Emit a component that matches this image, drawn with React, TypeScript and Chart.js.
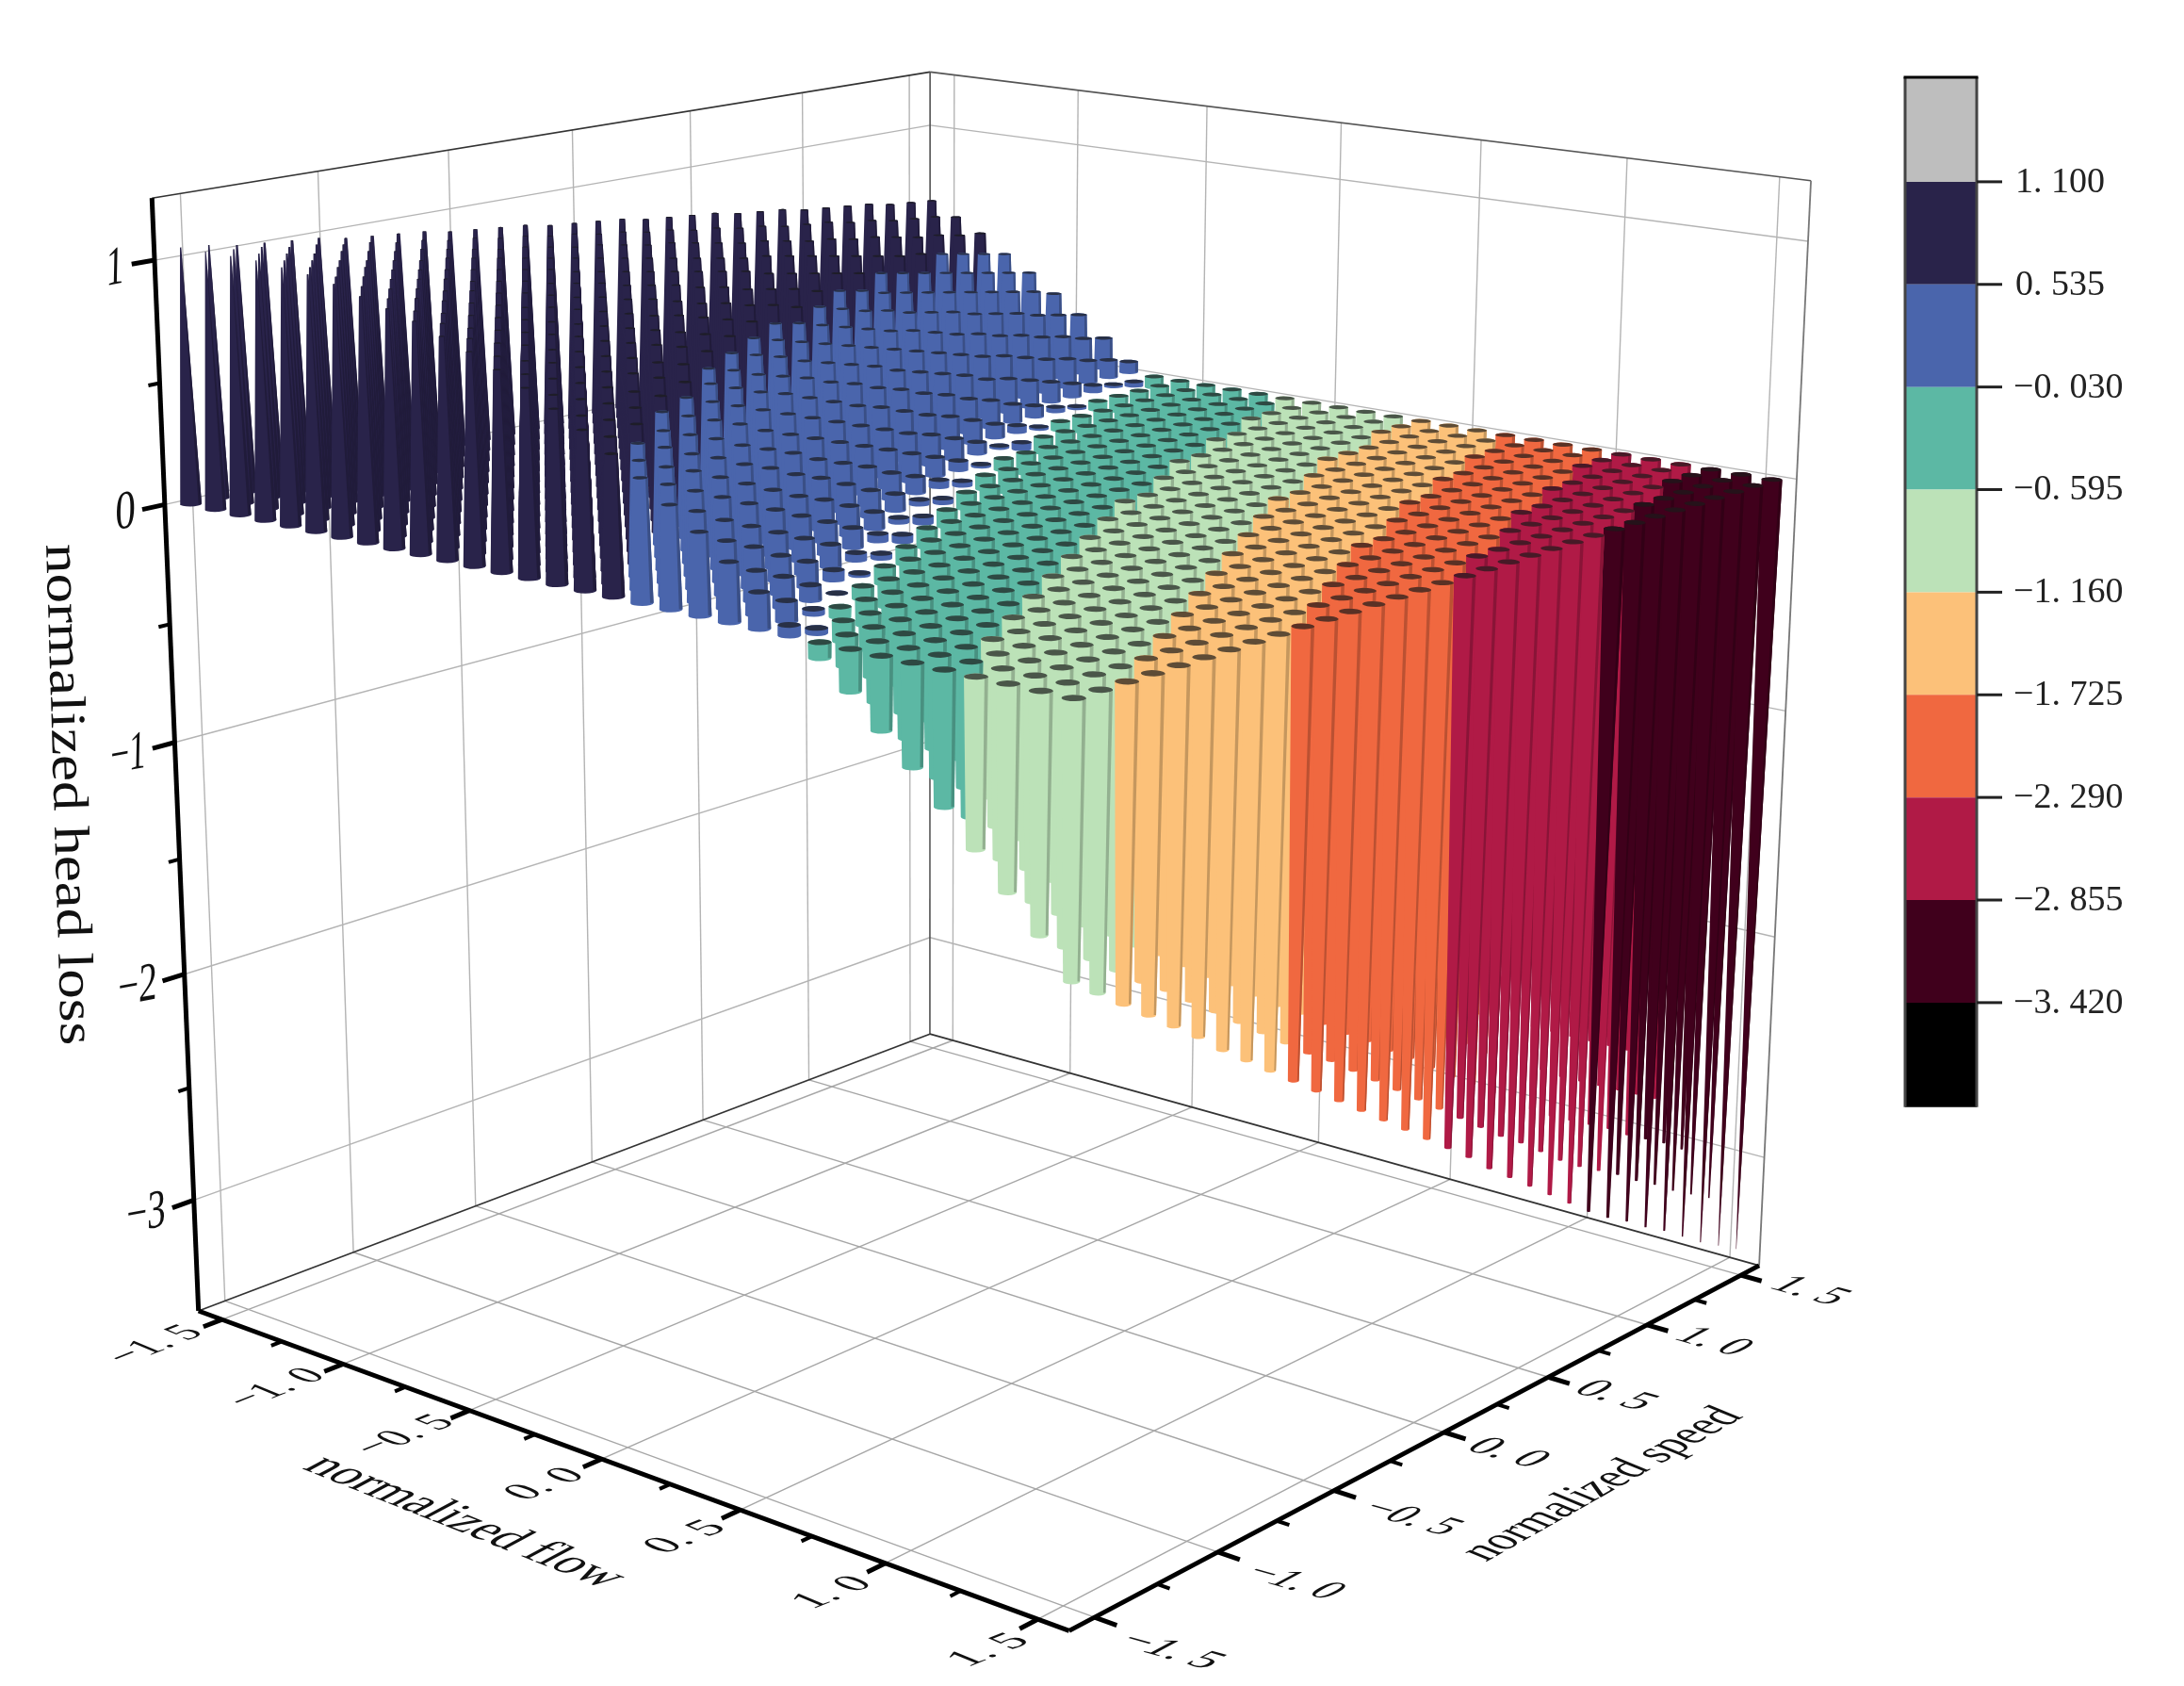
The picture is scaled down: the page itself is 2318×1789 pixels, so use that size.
import React, { useEffect, useRef } from "react";
import { Chart, registerables } from "chart.js";
Chart.register(...registerables);

const flowValues = [-1.55,-1.45,-1.35,-1.25,-1.15,-1.05,-0.95,-0.85,-0.75,-0.65,-0.55,-0.45,-0.35,-0.25,-0.15,-0.05,0.05,0.15,0.25,0.35,0.45,0.55,0.65,0.75,0.85,0.95,1.05,1.15,1.25,1.35,1.45,1.55];
const speedValues = [-1.55,-1.45,-1.35,-1.25,-1.15,-1.05,-0.95,-0.85,-0.75,-0.65,-0.55,-0.45,-0.35,-0.25,-0.15,-0.05,0.05,0.15,0.25,0.35,0.45,0.55,0.65,0.75,0.85,0.95,1.05,1.15,1.25,1.35,1.45,1.55];
// one row per speed value, one column per flow value
const headLoss: number[][] = [
[1.05,1.05,1.05,1.05,1.04,1.03,1.01,.98,.95,.92,.88,.84,.79,.74,.68,.62,.55,.48,.40,.32,.23,.14,.04,-.06,-.16,-.28,-.39,-.51,-.64,-.77,-.90,-1.04],
[1.04,1.04,1.04,1.03,1.02,1.00,.98,.95,.92,.89,.85,.80,.75,.69,.63,.57,.50,.43,.35,.26,.17,.08,-.02,-.12,-.23,-.34,-.46,-.58,-.71,-.84,-.98,-1.12],
[1.02,1.03,1.02,1.01,1.00,.98,.95,.93,.89,.85,.81,.76,.71,.65,.59,.52,.45,.38,.29,.21,.12,.02,-.08,-.19,-.30,-.41,-.53,-.65,-.78,-.92,-1.06,-1.20],
[1.01,1.01,1.00,.99,.98,.95,.93,.90,.86,.82,.78,.73,.67,.61,.55,.48,.41,.33,.24,.15,.06,-.04,-.14,-.25,-.36,-.48,-.60,-.73,-.86,-1.00,-1.14,-1.28],
[1.00,1.00,.99,.97,.95,.93,.90,.87,.83,.79,.74,.69,.63,.57,.50,.43,.36,.28,.19,.10,.00,-.10,-.20,-.31,-.43,-.55,-.67,-.80,-.93,-1.07,-1.22,-1.36],
[.99,.98,.97,.95,.93,.91,.88,.84,.80,.76,.71,.65,.59,.53,.46,.39,.31,.23,.14,.04,-.05,-.16,-.26,-.38,-.49,-.61,-.74,-.87,-1.01,-1.15,-1.29,-1.44],
[.97,.97,.95,.93,.91,.88,.85,.81,.77,.73,.67,.62,.55,.49,.42,.34,.26,.18,.09,-.01,-.11,-.21,-.32,-.44,-.56,-.68,-.81,-.94,-1.08,-1.22,-1.37,-1.53],
[.96,.95,.94,.92,.89,.86,.83,.79,.74,.69,.64,.58,.52,.45,.37,.30,.21,.13,.03,-.07,-.17,-.27,-.39,-.50,-.62,-.75,-.88,-1.02,-1.16,-1.30,-1.45,-1.61],
[.95,.94,.92,.90,.87,.84,.80,.76,.71,.66,.60,.54,.48,.41,.33,.25,.17,.08,-.02,-.12,-.22,-.33,-.45,-.57,-.69,-.82,-.95,-1.09,-1.23,-1.38,-1.53,-1.69],
[.94,.92,.90,.88,.85,.81,.77,.73,.68,.63,.57,.51,.44,.36,.29,.21,.12,.03,-.07,-.17,-.28,-.39,-.51,-.63,-.75,-.88,-1.02,-1.16,-1.30,-1.45,-1.61,-1.77],
[.92,.91,.88,.86,.83,.79,.75,.70,.65,.60,.53,.47,.40,.32,.24,.16,.07,-.03,-.12,-.23,-.34,-.45,-.57,-.69,-.82,-.95,-1.09,-1.23,-1.38,-1.53,-1.69,-1.85],
[.91,.89,.87,.84,.80,.77,.72,.67,.62,.56,.50,.43,.36,.28,.20,.11,.02,-.08,-.18,-.28,-.39,-.51,-.63,-.75,-.88,-1.02,-1.16,-1.30,-1.45,-1.61,-1.77,-1.93],
[.90,.88,.85,.82,.78,.74,.70,.65,.59,.53,.46,.40,.32,.24,.16,.07,-.03,-.13,-.23,-.34,-.45,-.57,-.69,-.82,-.95,-1.09,-1.23,-1.38,-1.53,-1.68,-1.84,-2.01],
[.89,.86,.83,.80,.76,.72,.67,.62,.56,.50,.43,.36,.28,.20,.11,.02,-.07,-.18,-.28,-.39,-.51,-.63,-.75,-.88,-1.01,-1.16,-1.30,-1.45,-1.60,-1.76,-1.92,-2.09],
[.87,.85,.82,.78,.74,.70,.64,.59,.53,.47,.40,.32,.24,.16,.07,-.02,-.12,-.23,-.33,-.45,-.56,-.68,-.81,-.94,-1.08,-1.22,-1.37,-1.52,-1.68,-1.84,-2.00,-2.17],
[.86,.83,.80,.76,.72,.67,.62,.56,.50,.43,.36,.28,.20,.12,.03,-.07,-.17,-.28,-.39,-.50,-.62,-.74,-.87,-1.01,-1.15,-1.29,-1.44,-1.59,-1.75,-1.91,-2.08,-2.25],
[.85,.82,.78,.74,.70,.65,.59,.53,.47,.40,.33,.25,.16,.08,-.02,-.11,-.22,-.33,-.44,-.55,-.68,-.80,-.93,-1.07,-1.21,-1.36,-1.51,-1.66,-1.82,-1.99,-2.16,-2.33],
[.84,.80,.77,.72,.68,.62,.57,.51,.44,.37,.29,.21,.13,.04,-.06,-.16,-.27,-.38,-.49,-.61,-.73,-.86,-1.00,-1.13,-1.28,-1.43,-1.58,-1.74,-1.90,-2.06,-2.24,-2.41],
[.82,.79,.75,.70,.66,.60,.54,.48,.41,.34,.26,.17,.09,-.01,-.10,-.21,-.31,-.43,-.54,-.66,-.79,-.92,-1.06,-1.20,-1.34,-1.49,-1.65,-1.81,-1.97,-2.14,-2.32,-2.50],
[.81,.77,.73,.68,.63,.58,.52,.45,.38,.30,.22,.14,.05,-.05,-.15,-.25,-.36,-.48,-.59,-.72,-.85,-.98,-1.12,-1.26,-1.41,-1.56,-1.72,-1.88,-2.05,-2.22,-2.40,-2.58],
[.80,.76,.71,.67,.61,.55,.49,.42,.35,.27,.19,.10,.01,-.09,-.19,-.30,-.41,-.53,-.65,-.77,-.90,-1.04,-1.18,-1.32,-1.47,-1.63,-1.79,-1.95,-2.12,-2.29,-2.48,-2.66],
[.79,.74,.70,.65,.59,.53,.46,.39,.32,.24,.15,.06,-.03,-.13,-.23,-.34,-.46,-.58,-.70,-.83,-.96,-1.10,-1.24,-1.39,-1.54,-1.70,-1.86,-2.02,-2.19,-2.37,-2.55,-2.74],
[.77,.73,.68,.63,.57,.51,.44,.37,.29,.21,.12,.03,-.07,-.17,-.28,-.39,-.51,-.63,-.75,-.88,-1.02,-1.16,-1.30,-1.45,-1.60,-1.77,-1.93,-2.10,-2.27,-2.45,-2.63,-2.82],
[.76,.71,.66,.61,.55,.48,.41,.34,.26,.17,.08,-.01,-.11,-.21,-.32,-.44,-.55,-.68,-.80,-.93,-1.07,-1.22,-1.36,-1.51,-1.67,-1.83,-2.00,-2.17,-2.34,-2.52,-2.71,-2.90],
[.75,.70,.65,.59,.53,.46,.39,.31,.23,.15,.05,-.04,-.14,-.25,-.36,-.47,-.59,-.72,-.85,-.98,-1.12,-1.26,-1.41,-1.56,-1.72,-1.89,-2.06,-2.23,-2.40,-2.59,-2.78,-2.97],
[.73,.69,.63,.57,.51,.44,.37,.29,.21,.12,.02,-.07,-.18,-.28,-.39,-.51,-.63,-.76,-.89,-1.02,-1.17,-1.31,-1.46,-1.62,-1.77,-1.95,-2.11,-2.29,-2.46,-2.65,-2.84,-3.03],
[.72,.67,.62,.55,.49,.42,.34,.26,.18,.09,-.01,-.11,-.21,-.32,-.43,-.55,-.67,-.80,-.93,-1.07,-1.22,-1.36,-1.51,-1.67,-1.83,-2.00,-2.17,-2.34,-2.53,-2.71,-2.90,-3.10],
[.71,.66,.60,.54,.47,.40,.32,.24,.15,.06,-.04,-.14,-.24,-.35,-.47,-.59,-.71,-.84,-.98,-1.11,-1.26,-1.41,-1.56,-1.72,-1.88,-2.06,-2.23,-2.40,-2.59,-2.77,-2.97,-3.16],
[.70,.64,.58,.52,.45,.38,.30,.21,.13,.03,-.07,-.17,-.27,-.39,-.51,-.63,-.75,-.89,-1.02,-1.16,-1.31,-1.46,-1.61,-1.77,-1.94,-2.11,-2.29,-2.46,-2.65,-2.84,-3.03,-3.23],
[.68,.63,.57,.50,.43,.36,.27,.19,.10,.01,-.10,-.20,-.31,-.42,-.54,-.66,-.79,-.93,-1.07,-1.20,-1.36,-1.51,-1.66,-1.82,-1.99,-2.17,-2.34,-2.52,-2.71,-2.90,-3.10,-3.30],
[.67,.62,.55,.48,.41,.34,.25,.16,.08,-.02,-.13,-.23,-.34,-.46,-.58,-.70,-.83,-.97,-1.11,-1.25,-1.40,-1.56,-1.71,-1.88,-2.04,-2.23,-2.40,-2.58,-2.77,-2.96,-3.16,-3.36],
[.66,.60,.54,.46,.39,.31,.23,.14,.05,-.05,-.16,-.27,-.37,-.49,-.62,-.74,-.87,-1.01,-1.15,-1.29,-1.45,-1.61,-1.76,-1.93,-2.10,-2.28,-2.46,-2.64,-2.83,-3.03,-3.22,-3.42],
];
const colorLevels = [1.1, 0.535, -0.03, -0.595, -1.16, -1.725, -2.29, -2.855, -3.42];
const colorLevelLabels = ["1. 100", "0. 535", "\u22120. 030", "\u22120. 595", "\u22121. 160", "\u22121. 725", "\u22122. 290", "\u22122. 855", "\u22123. 420"];
const colorBands = ["#BEBEBE", "#29234A", "#4A65AC", "#5CB8A4", "#BCE2B8", "#FCC179", "#F06840", "#B01A46", "#40001C", "#000000"];
const flowTicks = [-1.5, -1, -0.5, 0, 0.5, 1, 1.5];
const speedTicks = [-1.5, -1, -0.5, 0, 0.5, 1, 1.5];
const zTicks = [1, 0, -1, -2, -3];
const zMinorTicks = [0.5, -0.5, -1.5, -2.5];
const flowTickLabels = ["\u22121. 5", "\u22121. 0", "\u22120. 5", "0. 0", "0. 5", "1. 0", "1. 5"];
const speedTickLabels = ["\u22121. 5", "\u22121. 0", "\u22120. 5", "0. 0", "0. 5", "1. 0", "1. 5"];
const zTickLabels = ["1", "0", "\u22121", "\u22122", "\u22123"];

const W = 2318, H = 1789;
const BOX = 1.6, Z_MIN = -3.5, Z_MAX = 1.25;
const R0 = 0.029;
const font = '"Liberation Serif"';

// camera calibration: box anchor (flow, speed, z) and where it lands on the canvas
const CAMERA_ANCHORS = [
  [-BOX, -BOX, Z_MIN, 209, 1392], [BOX, -BOX, Z_MIN, 1135, 1730], [BOX, BOX, Z_MIN, 1867, 1342], [-BOX, BOX, Z_MIN, 987, 1097],
  [-BOX, -BOX, Z_MAX, 161, 209], [-BOX, BOX, Z_MAX, 987, 77], [BOX, BOX, Z_MAX, 1921, 189],
  [-BOX, -BOX, 1, 165, 277], [-BOX, -BOX, 0, 175, 538], [-BOX, -BOX, -1, 187, 788], [-BOX, -BOX, -2, 197, 1033],
  [-BOX, BOX, 1, 987, 133], [-BOX, BOX, 0, 987, 355], [BOX, BOX, 0, 1907, 513],
  [-1.55, -1.55, 0, 201, 532], [1.55, -1.55, 0, 1139, 741], [1.55, 1.55, 0, 1882, 508],
];

function fitCamera(): number[] {
  const n = 11;
  const M = Array.from({ length: n }, () => new Array(n + 1).fill(0));
  const add = (row: number[], rhs: number) => {
    for (let a = 0; a < n; a++) {
      for (let b = 0; b < n; b++) M[a][b] += row[a] * row[b];
      M[a][n] += row[a] * rhs;
    }
  };
  for (const [X, Y, Z, px, py] of CAMERA_ANCHORS) {
    const u = px / 1000, v = py / 1000;
    add([X, Y, Z, 1, 0, 0, 0, 0, -u * X, -u * Y, -u * Z], u);
    add([0, 0, 0, 0, X, Y, Z, 1, -v * X, -v * Y, -v * Z], v);
  }
  for (let c = 0; c < n; c++) {
    let p = c;
    for (let r = c + 1; r < n; r++) if (Math.abs(M[r][c]) > Math.abs(M[p][c])) p = r;
    [M[c], M[p]] = [M[p], M[c]];
    for (let r = 0; r < n; r++) {
      if (r === c) continue;
      const f = M[r][c] / M[c][c];
      for (let k = c; k <= n; k++) M[r][k] -= f * M[c][k];
    }
  }
  return M.map((row, i) => row[n] / row[i]);
}
const CAM = fitCamera();
type Pt = { x: number; y: number };
function project(f: number, s: number, z: number): Pt {
  const w = CAM[8] * f + CAM[9] * s + CAM[10] * z + 1;
  return {
    x: (1000 * (CAM[0] * f + CAM[1] * s + CAM[2] * z + CAM[3])) / w,
    y: (1000 * (CAM[4] * f + CAM[5] * s + CAM[6] * z + CAM[7])) / w,
  };
}

const hexRgb = (h: string) => [1, 3, 5].map((k) => parseInt(h.slice(k, k + 2), 16));
const shade = (h: string, m: number, add = 0) => {
  const [r, g, b] = hexRgb(h);
  return `rgb(${Math.round(r * m + add)},${Math.round(g * m + add)},${Math.round(b * m + add)})`;
};
function bandColor(z: number): string {
  for (let k = 0; k < colorLevels.length; k++) if (z >= colorLevels[k]) return colorBands[k];
  return colorBands[colorBands.length - 1];
}
const poly = (data: Pt[], color: string, yAxisID = "y") => ({
  data, yAxisID, fill: "shape", backgroundColor: color, borderWidth: 0, pointRadius: 0, tension: 0,
});
const stroke = (data: Pt[], color: string, width: number, yAxisID = "y") => ({
  data, yAxisID, fill: false, borderColor: color, borderWidth: width, pointRadius: 0, tension: 0,
});

function hull(points: Pt[]): Pt[] {
  const p = [...points].sort((a, b) => a.x - b.x || a.y - b.y);
  const cross = (o: Pt, a: Pt, b: Pt) => (a.x - o.x) * (b.y - o.y) - (a.y - o.y) * (b.x - o.x);
  const lo: Pt[] = [], up: Pt[] = [];
  for (const q of p) {
    while (lo.length >= 2 && cross(lo[lo.length - 2], lo[lo.length - 1], q) <= 0) lo.pop();
    lo.push(q);
  }
  for (const q of [...p].reverse()) {
    while (up.length >= 2 && cross(up[up.length - 2], up[up.length - 1], q) <= 0) up.pop();
    up.push(q);
  }
  return lo.slice(0, -1).concat(up.slice(0, -1));
}
function ring(f: number, s: number, z: number, r: number): Pt[] {
  const out: Pt[] = [];
  for (let k = 0; k < 16; k++) {
    const t = (k * Math.PI) / 8;
    out.push(project(f + r * Math.cos(t), s + r * Math.sin(t), z));
  }
  return out;
}
const radiusAt = (z: number) =>
  z >= 0 ? R0 * Math.max(0.02, 1 - Math.pow(z / 1.1, 1.3)) : R0 * Math.max(0.02, 1 + z / 3.46);

function barDatasets(): any[] {
  const cells: { i: number; j: number }[] = [];
  flowValues.forEach((_, i) => speedValues.forEach((_, j) => cells.push({ i, j })));
  cells.sort((a, b) => a.i - a.j - (b.i - b.j));
  const out: any[] = [];
  for (const { i, j } of cells) {
    const f = flowValues[i], s = speedValues[j], z = headLoss[j][i];
    const c = bandColor(z);
    const base = ring(f, s, 0, R0);
    const end = ring(f, s, z, radiusAt(z));
    out.push(poly(hull(base.concat(end)), c));
    if (Math.abs(z) > 0.04) {
      const ext = (e: Pt[]) => {
        const l = e.reduce((m, p) => (p.x < m.x ? p : m));
        const r = e.reduce((m, p) => (p.x > m.x ? p : m));
        return { r, inner: { x: r.x - 0.15 * (r.x - l.x), y: r.y } };
      };
      const a = ext(base), b = ext(end);
      out.push(poly([a.r, a.inner, b.inner, b.r], shade(c, 0.78)));
    }
    const cap = z >= 0 ? end : base;
    out.push(poly(cap, shade(c, 0.3, 18)));
  }
  return out;
}

function frameDatasets(): any[] {
  const out: any[] = [];
  const GRID = "#b4b4b4";
  for (const v of flowTicks) {
    out.push(stroke([project(v, -BOX, Z_MIN), project(v, BOX, Z_MIN)], "#a6a6a6", 1.4));
    out.push(stroke([project(v, BOX, Z_MIN), project(v, BOX, Z_MAX)], GRID, 1.4));
  }
  for (const v of speedTicks) {
    out.push(stroke([project(-BOX, v, Z_MIN), project(BOX, v, Z_MIN)], "#a6a6a6", 1.4));
    out.push(stroke([project(-BOX, v, Z_MIN), project(-BOX, v, Z_MAX)], GRID, 1.4));
  }
  for (const v of zTicks) {
    out.push(stroke([project(-BOX, -BOX, v), project(-BOX, BOX, v)], GRID, 1.4));
    out.push(stroke([project(-BOX, BOX, v), project(BOX, BOX, v)], GRID, 1.4));
  }
  const edges: [number, number, number, number, number, number, string, number][] = [
    [-BOX, -BOX, Z_MAX, -BOX, BOX, Z_MAX, "#333333", 1.6],
    [-BOX, BOX, Z_MAX, BOX, BOX, Z_MAX, "#555555", 1.6],
    [-BOX, BOX, Z_MIN, -BOX, BOX, Z_MAX, "#555555", 1.6],
    [-BOX, -BOX, Z_MIN, -BOX, BOX, Z_MIN, "#333333", 1.8],
    [-BOX, BOX, Z_MIN, BOX, BOX, Z_MIN, "#333333", 1.8],
    [BOX, BOX, Z_MIN, BOX, BOX, Z_MAX, "#777777", 1.8],
  ];
  for (const [a, b, c, d, e, g, col, w] of edges) out.push(stroke([project(a, b, c), project(d, e, g)], col, w));
  return out;
}
function axisDatasets(): any[] {
  const out: any[] = [];
  out.push(stroke([project(-BOX, -BOX, Z_MIN), project(BOX, -BOX, Z_MIN)], "#000", 5));
  out.push(stroke([project(BOX, -BOX, Z_MIN), project(BOX, BOX, Z_MIN)], "#000", 5));
  out.push(stroke([project(-BOX, -BOX, Z_MIN), project(-BOX, -BOX, Z_MAX)], "#000", 5));
  flowTicks.forEach((v) => {
    out.push(stroke([project(v, -BOX, Z_MIN), project(v, -BOX - 0.07, Z_MIN)], "#000", 5));
    if (v < 1.5) out.push(stroke([project(v + 0.25, -BOX, Z_MIN), project(v + 0.25, -BOX - 0.04, Z_MIN)], "#000", 4));
  });
  speedTicks.forEach((v) => {
    out.push(stroke([project(BOX, v, Z_MIN), project(BOX + 0.07, v, Z_MIN)], "#000", 5));
    if (v < 1.5) out.push(stroke([project(BOX, v + 0.25, Z_MIN), project(BOX + 0.04, v + 0.25, Z_MIN)], "#000", 4));
  });
  zTicks.forEach((v) => out.push(stroke([project(-BOX, -BOX, v), project(-BOX, -BOX - 0.08, v)], "#000", 5)));
  zMinorTicks.forEach((v) => out.push(stroke([project(-BOX, -BOX, v), project(-BOX, -BOX - 0.04, v)], "#000", 4)));
  return out;
}
const CB_L = 2022, CB_R = 2098, CB_TICK = 2125, CB_STEP = 0.575;
function colorbarDatasets(): any[] {
  const out: any[] = [];
  const edges = [colorLevels[0] + CB_STEP, ...colorLevels, colorLevels[colorLevels.length - 1] - CB_STEP];
  colorBands.forEach((c, k) => {
    out.push(poly([{ x: CB_L, y: edges[k] }, { x: CB_R, y: edges[k] }, { x: CB_R, y: edges[k + 1] }, { x: CB_L, y: edges[k + 1] }], c, "yCb"));
  });
  const top = edges[0], bot = edges[edges.length - 1];
  out.push(stroke([{ x: CB_L, y: top }, { x: CB_L, y: bot }], "#444", 3, "yCb"));
  out.push(stroke([{ x: CB_R, y: top }, { x: CB_R, y: bot }], "#444", 3, "yCb"));
  out.push(stroke([{ x: CB_L - 1.5, y: top }, { x: CB_R + 1.5, y: top }], "#000", 3, "yCb"));
  colorLevels.forEach((v) => out.push(stroke([{ x: CB_R, y: v }, { x: CB_TICK, y: v }], "#222", 3, "yCb")));
  return out;
}

type Lbl = { t: string; x: number; y: number; dir: [number, number]; up: [number, number]; L: number; f: number };
const FLOW_DIR: [number, number] = [0.93, -0.37];
const FLOW_UP: [number, number] = [-0.92, -0.38];
const SPEED_DIR: [number, number] = [0.96, 0.27];
const SPEED_UP: [number, number] = [0.88, -0.47];
const flowTickAnchors = [[165, 1427, 90], [294, 1473, 92], [430, 1523, 94], [579, 1575, 72], [728, 1631, 74], [884, 1690, 72], [1050, 1751, 74]];
const speedTickAnchors = [[1242, 1752, 101], [1373, 1679, 95], [1497, 1611, 95], [1600, 1542, 75], [1714, 1481, 75], [1818, 1424, 69], [1920, 1370, 71]];
const zTickAnchors = [[122, 286, 19], [133, 545, 22], [136, 802, 38], [146, 1048, 42], [155, 1289, 42]];
function textLabels(): Lbl[] {
  const out: Lbl[] = [];
  flowTickLabels.forEach((t, k) => {
    const [x, y, L] = flowTickAnchors[k];
    out.push({ t, x, y, dir: FLOW_DIR, up: FLOW_UP, L, f: 45 });
  });
  speedTickLabels.forEach((t, k) => {
    const [x, y, L] = speedTickAnchors[k];
    out.push({ t, x, y, dir: SPEED_DIR, up: SPEED_UP, L, f: 46 });
  });
  zTickLabels.forEach((t, k) => {
    const [x, y, L] = zTickAnchors[k];
    out.push({ t, x, y, dir: [0.98, -0.18], up: [0.02, -1], L, f: 58 });
  });
  out.push({ t: "normalized flow", x: 493, y: 1615, dir: [0.93, 0.37], up: [0.88, -0.47], L: 345, f: 56 });
  out.push({ t: "normalized speed", x: 1701, y: 1575, dir: [0.87, -0.49], up: [-0.92, -0.38], L: 315, f: 54 });
  out.push({ t: "normalized head loss", x: 71, y: 843, dir: [0.03, 1], up: [1, -0.03], L: 532, f: 53 });
  return out;
}

const labelPlugin = {
  id: "labels3d",
  afterDraw(chart: any) {
    const ctx = chart.ctx as CanvasRenderingContext2D;
    ctx.save();
    ctx.fillStyle = "#111";
    ctx.textAlign = "center";
    ctx.textBaseline = "middle";
    for (const l of textLabels()) {
      ctx.font = `${l.f}px ${font}`;
      const sx = l.L / ctx.measureText(l.t).width;
      ctx.setTransform(l.dir[0] * sx, l.dir[1] * sx, -l.up[0], -l.up[1], l.x, l.y);
      ctx.fillText(l.t, 0, 0);
    }
    ctx.setTransform(1, 0, 0, 1, 0, 0);
    ctx.textAlign = "left";
    ctx.font = `38px ${font}`;
    ctx.fillStyle = "#222";
    colorLevelLabels.forEach((t, k) => {
      ctx.fillText(t, colorLevels[k] >= 0 ? 2139 : 2137, chart.scales.yCb.getPixelForValue(colorLevels[k]) + 1);
    });
    ctx.restore();
  },
};

export default function App() {
  const ref = useRef<HTMLCanvasElement>(null);
  useEffect(() => {
    document.body.style.margin = "0";
    const drawOrder = [...frameDatasets(), ...barDatasets(), ...axisDatasets(), ...colorbarDatasets()];
    const chart = new Chart(ref.current as HTMLCanvasElement, {
      type: "line",
      data: { datasets: drawOrder.reverse() },
      plugins: [labelPlugin],
      options: {
        animation: false,
        responsive: false,
        events: [],
        layout: { padding: 0 },
        plugins: { legend: { display: false }, tooltip: { enabled: false } },
        scales: {
          x: { type: "linear", min: 0, max: W, display: false },
          y: { type: "linear", min: 0, max: H, reverse: true, display: false },
          yCb: { type: "linear", min: -7.183, max: 2.101, display: false },
        },
      },
    } as any);
    return () => chart.destroy();
  }, []);
  return <canvas ref={ref} width={W} height={H} style={{ display: "block", position: "absolute", left: 0, top: 0, background: "#fff" }} />;
}
